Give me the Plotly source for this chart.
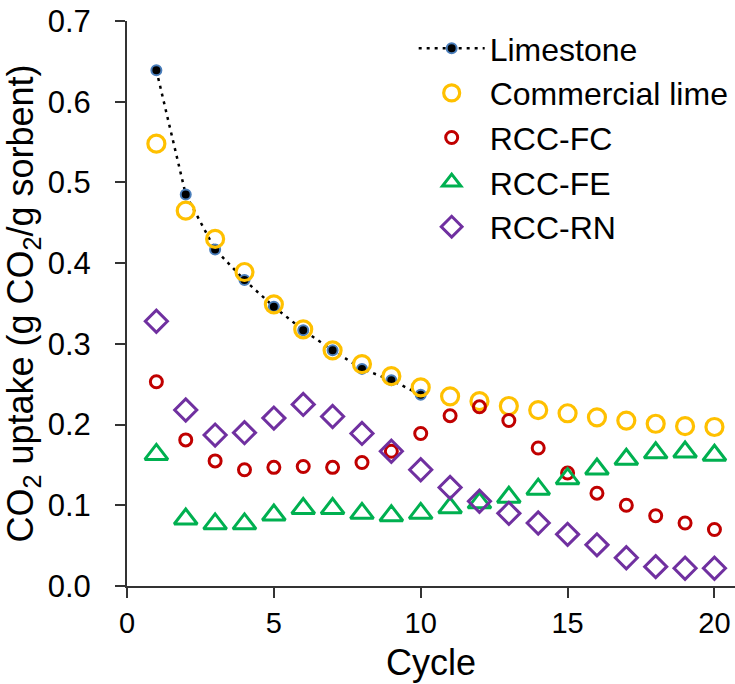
import plotly.graph_objects as go

cycles = list(range(1, 21))
limestone_cycles = list(range(1, 11))
limestone = [0.639, 0.485, 0.417, 0.379, 0.346, 0.317, 0.292, 0.269, 0.255, 0.237]
commercial_lime = [0.548, 0.465, 0.430, 0.389, 0.349, 0.318, 0.292, 0.275, 0.260, 0.246,
                   0.235, 0.229, 0.223, 0.218, 0.214, 0.209, 0.205, 0.201, 0.198, 0.197]
rcc_fc = [0.253, 0.181, 0.155, 0.144, 0.147, 0.148, 0.147, 0.153, 0.167, 0.189,
          0.211, 0.222, 0.205, 0.171, 0.140, 0.115, 0.100, 0.087, 0.078, 0.070]
rcc_fe = [0.163, 0.083, 0.077, 0.077, 0.088, 0.096, 0.096, 0.090, 0.087, 0.090,
          0.097, 0.103, 0.110, 0.120, 0.133, 0.145, 0.157, 0.165, 0.166, 0.162]
rcc_rn = [0.328, 0.218, 0.187, 0.190, 0.208, 0.225, 0.210, 0.189, 0.167, 0.144,
          0.122, 0.105, 0.090, 0.078, 0.064, 0.051, 0.035, 0.024, 0.022, 0.022]

FONT = "Arial, Liberation Sans, sans-serif"
AX = "#333333"

fig = go.Figure()
fig.add_trace(go.Scatter(
    x=limestone_cycles, y=limestone, name="Limestone", mode="lines+markers",
    line=dict(color="black", width=2.5, dash="3px,5px"),
    marker=dict(symbol="circle", size=10, color="black", line=dict(color="#4a7ebb", width=2)),
    legendgroup="a"))
fig.add_trace(go.Scatter(
    x=cycles, y=commercial_lime, name="Commercial lime", mode="markers",
    marker=dict(symbol="circle-open", size=17, color="#FFC000", line=dict(width=3.2)),
    legendgroup="b"))
fig.add_trace(go.Scatter(
    x=cycles, y=rcc_fc, name="RCC-FC", mode="markers",
    marker=dict(symbol="circle-open", size=12, color="#C00000", line=dict(width=3)),
    legendgroup="c"))
fig.add_trace(go.Scatter(
    x=cycles, y=rcc_fe, name="RCC-FE", mode="markers",
    marker=dict(symbol="triangle-up-open", size=20, color="#00B050", line=dict(width=3)),
    legendgroup="d"))
fig.add_trace(go.Scatter(
    x=cycles, y=rcc_rn, name="RCC-RN", mode="markers",
    marker=dict(symbol="diamond-open", size=17, color="#7030A0", line=dict(width=3)),
    legendgroup="e"))

fig.update_layout(
    width=735, height=684,
    margin=dict(l=127, r=0, t=21, b=98),
    paper_bgcolor="white", plot_bgcolor="white",
    font=dict(family=FONT, size=30, color="black"),
    showlegend=True,
    legend=dict(x=0.4715, y=1.0, xanchor="left", yanchor="top",
                font=dict(family=FONT, size=32, color="black"), itemwidth=66,
                tracegroupgap=0, bgcolor="rgba(0,0,0,0)"),
    xaxis=dict(range=[0, 20.7], dtick=5, tick0=0, showgrid=False, zeroline=False,
               showline=True, linecolor=AX, linewidth=2, ticks="outside",
               ticklen=10, tickwidth=2, tickcolor=AX,
               tickfont=dict(family=FONT, size=29, color="black"),
               title=dict(text="Cycle", standoff=12)),
    yaxis=dict(range=[0, 0.7], dtick=0.1, tick0=0, tickformat=".1f", showgrid=False,
               zeroline=False, showline=True, linecolor=AX, linewidth=2,
               ticks="outside", ticklen=10, tickwidth=2, tickcolor=AX,
               ticklabelstandoff=18, tickfont=dict(family=FONT, size=31, color="black"),
               title=dict(text="CO<sub>2</sub> uptake (g CO<sub>2</sub>/g sorbent)", standoff=8)),
)

fig.write_html("out.html")
